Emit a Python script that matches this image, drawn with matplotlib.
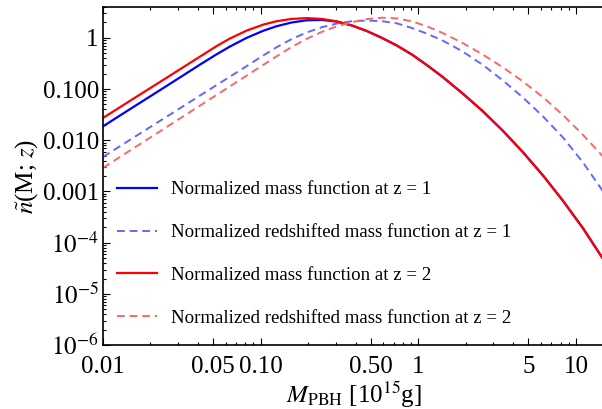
import numpy as np
import matplotlib
matplotlib.use('Agg')
import matplotlib.pyplot as plt
from matplotlib.ticker import FixedLocator, NullFormatter

plt.rcParams['font.family'] = ['Liberation Serif', 'DejaVu Serif']
plt.rcParams['mathtext.fontset'] = 'stix'

# values, stored as log10 (M in 10^15 g)
log_m = [-2.000, -1.822, -1.611, -1.376, -1.280, -1.197, -1.089, -0.981,
         -0.898, -0.803, -0.707, -0.611, -0.516, -0.420, -0.325, -0.229,
         -0.134, -0.038, 0.057, 0.153, 0.280, 0.408, 0.535, 0.662, 0.790,
         0.917, 1.045, 1.185]

# mass function at z = 1
log_n_z1 = [-1.729, -1.380, -0.969, -0.507, -0.324, -0.175, -0.002, 0.140,
            0.226, 0.299, 0.342, 0.349, 0.316, 0.240, 0.131, -0.004,
            -0.154, -0.331, -0.538, -0.760, -1.082, -1.429, -1.809, -2.226,
            -2.682, -3.177, -3.717, -4.376]
# redshifted mass function at z = 1
log_n_z1_rs = [-2.326, -1.979, -1.569, -1.111, -0.924, -0.764, -0.554, -0.341,
               -0.183, -0.025, 0.105, 0.207, 0.279, 0.324, 0.337, 0.324,
               0.281, 0.189, 0.078, -0.051, -0.263, -0.526, -0.828, -1.160,
               -1.530, -1.942, -2.433, -3.055]
# mass function at z = 2
log_n_z2 = [-1.565, -1.218, -0.809, -0.351, -0.164, -0.018, 0.140, 0.259,
            0.324, 0.368, 0.384, 0.368, 0.320, 0.240, 0.131, -0.004,
            -0.154, -0.331, -0.538, -0.760, -1.082, -1.429, -1.809, -2.226,
            -2.682, -3.177, -3.717, -4.376]
# redshifted mass function at z = 2
log_n_z2_rs = [-2.540, -2.187, -1.772, -1.306, -1.117, -0.953, -0.739, -0.524,
               -0.361, -0.179, -0.019, 0.117, 0.224, 0.306, 0.365, 0.392,
               0.378, 0.320, 0.222, 0.096, -0.099, -0.324, -0.573, -0.848,
               -1.156, -1.505, -1.895, -2.361]

labels = ['Normalized mass function at z = 1',
          'Normalized redshifted mass function at z = 1',
          'Normalized mass function at z = 2',
          'Normalized redshifted mass function at z = 2']

xticks = [0.01, 0.05, 0.1, 0.5, 1, 5, 10]
xticklabels = ['0.01', '0.05', '0.10', '0.50', '1', '5', '10']
yticks = [1e-6, 1e-5, 1e-4, 1e-3, 1e-2, 1e-1, 1]
yticklabels = [r'$10^{-6}$', r'$10^{-5}$', r'$10^{-4}$', '0.001', '0.010', '0.100', '1']

m = 10 ** np.array(log_m)

fig = plt.figure(figsize=(6.02, 4.09), dpi=100)
ax = fig.add_axes([0.171, 0.156, 0.834, 0.827])

ax.plot(m, 10 ** np.array(log_n_z1), color='#0000ff', lw=1.6, label=labels[0])
ax.plot(m, 10 ** np.array(log_n_z1_rs), color='#6666ff', lw=1.4,
        ls=(0, (4, 2.5)), label=labels[1])
ax.plot(m, 10 ** np.array(log_n_z2), color='#ff0000', lw=1.6, label=labels[2])
ax.plot(m, 10 ** np.array(log_n_z2_rs), color='#ff6666', lw=1.4,
        ls=(0, (4, 2.5)), label=labels[3])

ax.set_xscale('log')
ax.set_yscale('log')
ax.set_xlim(0.01, 15.3)
ax.set_ylim(1e-6, 4.0)

ax.set_xticks(xticks)
ax.set_xticklabels(xticklabels)
ax.set_yticks(yticks)
ax.set_yticklabels(yticklabels)
xminor = [k * 10.0 ** e for e in range(-2, 2) for k in range(2, 10)]
yminor = [k * 10.0 ** e for e in range(-6, 1) for k in range(2, 10)]
ax.xaxis.set_minor_locator(FixedLocator(xminor))
ax.yaxis.set_minor_locator(FixedLocator(yminor))
ax.xaxis.set_minor_formatter(NullFormatter())
ax.yaxis.set_minor_formatter(NullFormatter())

ax.tick_params(which='both', direction='in', top=True, right=False,
               labelsize=18, width=0.8)
ax.tick_params(which='major', length=5)
ax.tick_params(which='minor', length=2.5)
ax.tick_params(axis='x', which='major', pad=8)
ax.tick_params(axis='y', which='major', pad=3)
for s in ax.spines.values():
    s.set_linewidth(1.2)

ax.set_xlabel(r'$M_{\rm PBH}$ [10$^{15}$g]', fontsize=18, labelpad=1)
ax.set_ylabel(r'$\tilde{n}$(M; $z$)', fontsize=18, labelpad=2)

ax.legend(loc='center left', bbox_to_anchor=(0.028, 0.27), frameon=False,
          fontsize=13.6, handlelength=2.1, handletextpad=0.78, labelspacing=1.35,
          borderpad=0, borderaxespad=0)

fig.savefig('out.png', dpi=100)
